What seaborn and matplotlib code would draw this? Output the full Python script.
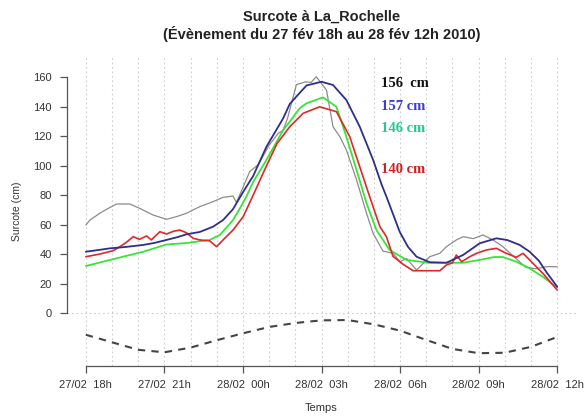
import matplotlib
matplotlib.use("Agg")
import matplotlib.pyplot as plt
import seaborn as sns

# Surcote at La Rochelle, hours after 27/02 18h
t_obs = [0, 0.15, 0.53, 0.8, 1.17, 1.68, 2.06, 2.57, 3.08, 3.46, 3.84, 4.35, 4.86, 5.24, 5.62,
         5.75, 6.26, 6.6, 7.0, 7.35, 7.53, 7.7, 8.04, 8.4, 8.6, 8.8, 9.19, 9.44, 9.7, 9.95,
         10.34, 10.72, 10.97, 11.35, 11.73, 12.0, 12.25, 12.63, 12.85, 13.13, 13.52, 13.77,
         14.15, 14.41, 14.8, 15.17, 15.55, 15.93, 16.3, 16.8, 17.2, 17.6, 18]
obs = [59.7, 63, 67.7, 70.5, 74, 74, 71, 66.5, 63.6, 65.4, 67.7, 72.2, 75.6, 78.5, 79.4,
       75, 96, 101, 114, 122, 124, 132, 155, 157, 156.5, 160.4, 151.4, 126.5, 119.7, 110.7,
       90.3, 67.7, 54.1, 42, 40.5, 34.8, 37, 29.2, 33, 38.2, 40.5, 45,
       49.6, 51.8, 50.5, 53, 49.6, 45, 39, 31, 30, 31.5, 31.4]

t_blue = [0, 0.5, 0.92, 1.5, 2.19, 2.6, 3.08, 3.5, 3.84, 4.35, 4.86, 5.24, 5.62, 6.0, 6.39,
          6.9, 7.53, 7.79, 8.17, 8.43, 9.0, 9.44, 9.95, 10.46, 10.97, 11.3, 11.48, 11.99,
          12.3, 12.63, 13.13, 13.77, 14.41, 15.04, 15.68, 16.1, 16.57, 16.95, 17.3, 17.6, 18]
blue = [41.6, 42.8, 43.9, 44.8, 46.2, 47.5, 49.6, 51.5, 53.4, 55, 58.6, 63.1, 70.5, 82, 93,
        113, 132, 142, 149.5, 154.5, 157, 154.8, 144.6, 126.5, 104, 87, 79, 55,
        45, 38.2, 34.5, 34.1, 39.4, 47.3, 50.7, 49.5, 46.2, 41.6, 35.5, 27.5, 17.9]

t_green = [0, 0.92, 2.19, 3.08, 3.84, 4.73, 5.12, 5.37, 5.62, 5.88, 6.13, 6.39, 6.9, 7.53,
           7.79, 8.17, 8.43, 9.06, 9.57, 9.95, 10.34, 10.72, 11.1, 11.6, 12.25, 13.13, 14.41,
           15.04, 15.6, 15.93, 16.44, 16.95, 17.5, 18]
green = [31.9, 36, 41.6, 46.5, 47.5, 49.6, 53, 58, 63.1, 71, 79, 89, 104, 124,
         130, 139, 142.4, 146.4, 140, 119.7, 97, 74.5, 56.3, 42.8, 36, 34, 34.1,
         36, 38, 38, 34.8, 30.3, 24, 17.3]

t_red = [0, 0.53, 1.04, 1.3, 1.55, 1.81, 2.05, 2.32, 2.5, 2.83, 3.08, 3.35, 3.59, 3.84, 4.1,
         4.35, 4.73, 4.99, 5.24, 5.62, 6.01, 6.39, 6.9, 7.3, 7.79, 8.3, 8.93, 9.57, 10.08,
         10.46, 10.84, 11.23, 11.48, 11.73, 12.12, 12.5, 13.52, 13.77, 14.0, 14.15, 14.35,
         14.66, 14.92, 15.3, 15.68, 16.06, 16.44, 16.7, 16.95, 17.5, 18]
red = [38.2, 40, 42.3, 45, 48, 51.8, 50, 52.3, 49.6, 55.2, 53.6, 55.5, 56.3, 54.5, 50.7,
       49.6, 49, 45, 49.6, 56.3, 65.4, 80, 100, 115, 126.5, 135.6, 140, 136.7, 119.7,
       99.3, 79, 58.6, 51.8, 38.5, 33, 28.7, 28.7, 32.6, 34, 39.4, 34.8,
       38.2, 40.5, 42.8, 43.9, 40.5, 37.8, 40.5, 36, 26, 15.6]

t_tide = list(range(19))
tide = [-14.8, -19.9, -25, -26.7, -23.5, -18.5, -13.8, -9.5, -6.8, -5, -4.8, -7.7, -12,
        -18.3, -24.4, -27.3, -27, -23, -16.3]

tick_hours = [0, 3, 6, 9, 12, 15, 18]
tick_labels = ["27/02  18h", "27/02  21h", "28/02  00h", "28/02  03h",
               "28/02  06h", "28/02  09h", "28/02  12h"]
peak_labels = ["156  cm", "157 cm", "146 cm", "140 cm"]
peak_colors = ["#111111", "#3a3ad6", "#1fc98f", "#cc2020"]
peak_y = [155.5, 140.5, 125.4, 97.6]

sns.set_style("white")
plt.rcParams["font.family"] = ["Liberation Sans", "DejaVu Sans"]

fig = plt.figure(figsize=(5.84, 4.19), dpi=100)
ax = fig.add_axes([67 / 584, (419 - 365.7) / 419, (576 - 67) / 584, (365.7 - 56) / 419])

# hourly dotted grid and zero line
for h in range(19):
    ax.axvline(h, color="#cccccc", lw=0.8, ls=(0, (1.5, 2.5)), zorder=0)
ax.axhline(0, color="#cccccc", lw=0.8, ls=(0, (1.5, 2.5)), zorder=0)

sns.lineplot(x=t_tide, y=tide, color="#444444", lw=1.5, ls=(0, (3.5, 3)), ax=ax)
sns.lineplot(x=t_obs, y=obs, color="#8c8c8c", lw=0.9, ax=ax)
sns.lineplot(x=t_green, y=green, color="#38e438", lw=1.3, ax=ax)
sns.lineplot(x=t_red, y=red, color="#e02828", lw=1.2, ax=ax)
sns.lineplot(x=t_blue, y=blue, color="#2e2e8c", lw=1.3, ax=ax)

for lab, c, yv in zip(peak_labels, peak_colors, peak_y):
    ax.text(11.29, yv, lab, color=c, fontsize=10.5, fontweight="bold",
            family="Liberation Serif", ha="left", va="center")

ax.set_xlim(-0.72, 18.72)
ax.set_ylim(-35.8, 174.5)
ax.set_xticks(tick_hours)
ax.set_xticklabels(tick_labels)
ax.set_yticks(range(0, 161, 20))

for s in ["top", "right"]:
    ax.spines[s].set_visible(False)
ax.spines["left"].set_bounds(0, 160)
ax.spines["bottom"].set_bounds(0, 18)
for s in ["left", "bottom"]:
    ax.spines[s].set_color("#555555")
    ax.spines[s].set_linewidth(0.9)
ax.tick_params(axis="both", direction="out", length=5, width=0.9, color="#555555",
               labelsize=8, labelcolor="#333333", left=True, bottom=True)
ax.tick_params(axis="y", pad=6)
ax.tick_params(axis="x", pad=5)

ax.set_xlabel("Temps", fontsize=8, color="#333333", labelpad=10)
ax.set_ylabel("Surcote (cm)", fontsize=7.5, color="#333333", labelpad=8)

fig.text(322 / 584, 1 - 17 / 419, "Surcote à La_Rochelle", ha="center", va="center",
         fontsize=10.5, fontweight="bold", color="#222222")
fig.text(322 / 584, 1 - 34 / 419, "(Évènement du 27 fév 18h au 28 fév 12h 2010)",
         ha="center", va="center", fontsize=10.5, fontweight="bold", color="#222222")

fig.savefig("out.png", dpi=100)
